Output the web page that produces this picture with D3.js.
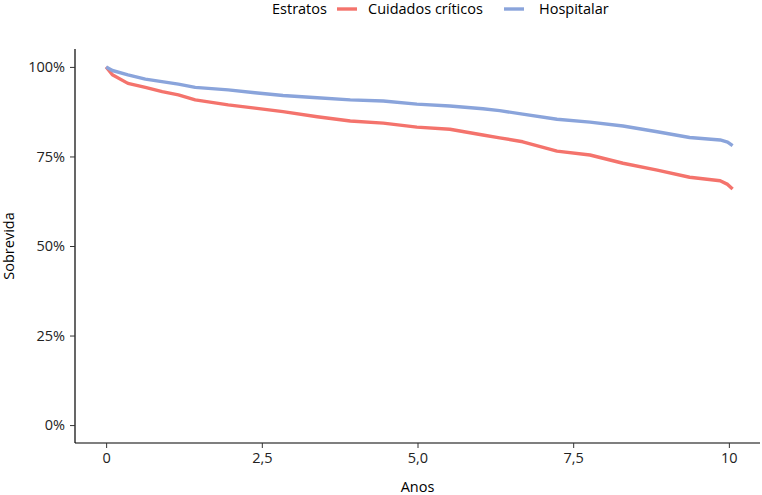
<!DOCTYPE html>
<html>
<head>
<meta charset="utf-8">
<script src="https://cdn.jsdelivr.net/npm/d3@7"></script>
<style>
  body { margin: 0; background: #fff; }
  text { font-family: "Open Sans", "Noto Sans", sans-serif; }
</style>
</head>
<body>
<div id="chart"></div>
<script>
// survival curves (years, proportion surviving)
var critico_t = [0, 0.1, 0.35, 0.63, 0.9, 1.16, 1.43, 1.96, 2.39, 2.84, 3.39, 3.92, 4.45, 4.99, 5.52, 6.05, 6.32, 6.69, 7.24, 7.77, 8.30, 8.85, 9.37, 9.86, 9.98, 10.06];
var critico_s = [1.0, 0.978, 0.954, 0.943, 0.931, 0.922, 0.908, 0.894, 0.885, 0.875, 0.861, 0.849, 0.843, 0.832, 0.826, 0.810, 0.802, 0.791, 0.765, 0.754, 0.731, 0.712, 0.692, 0.682, 0.672, 0.659];
var hosp_t = [0, 0.1, 0.35, 0.63, 1.16, 1.43, 1.96, 2.39, 2.84, 3.39, 3.92, 4.45, 4.99, 5.52, 6.05, 6.32, 6.69, 7.24, 7.77, 8.30, 8.85, 9.37, 9.86, 9.98, 10.06];
var hosp_s = [1.0, 0.99, 0.978, 0.966, 0.952, 0.943, 0.936, 0.928, 0.920, 0.914, 0.908, 0.905, 0.896, 0.891, 0.883, 0.878, 0.868, 0.854, 0.846, 0.835, 0.819, 0.803, 0.796, 0.790, 0.780];
var x_ticks = [0, 2.5, 5, 7.5, 10];
var x_tick_labels = ["0", "2,5", "5,0", "7,5", "10"];
var y_ticks = [0, 0.25, 0.5, 0.75, 1];
var strata = ["Cuidados críticos", "Hospitalar"];
var colors = ["#F4736C", "#8AA4DB"];

var width = 762, height = 495;
var margin = {top: 49, right: 2, bottom: 52, left: 75};
var chartWidth = width - margin.left - margin.right;
var chartHeight = height - margin.top - margin.bottom;

var svg = d3.select("#chart").append("svg")
    .attr("width", width)
    .attr("height", height);

var g = svg.append("g")
    .attr("transform", `translate(${margin.left},${margin.top})`);

// x domain padded like ggplot expansion
var x = d3.scaleLinear()
    .domain([-0.5, 10.5])
    .range([0, chartWidth]);
var y = d3.scaleLinear()
    .domain([-0.05, 1.05])
    .range([chartHeight, 0]);

var series = [
    {name: strata[0], t: critico_t, s: critico_s, color: colors[0]},
    {name: strata[1], t: hosp_t, s: hosp_s, color: colors[1]}
];

var line = d3.line()
    .x(d => x(d[0]))
    .y(d => y(d[1]))
    .curve(d3.curveLinear);

g.selectAll(".km")
    .data(series)
    .enter().append("path")
    .attr("class", "km")
    .attr("fill", "none")
    .attr("stroke", d => d.color)
    .attr("stroke-width", 3.4)
    .attr("stroke-linejoin", "round")
    .attr("d", d => line(d.t.map((v, i) => [v, d.s[i]])));

// axes
var xAxis = g.append("g")
    .attr("transform", `translate(0,${chartHeight})`)
    .call(d3.axisBottom(x).tickValues(x_ticks).tickFormat((d, i) => x_tick_labels[i]).tickSize(5).tickPadding(5));
var yAxis = g.append("g")
    .call(d3.axisLeft(y).tickValues(y_ticks).tickFormat(d => Math.round(d * 100) + "%").tickSize(5).tickPadding(5));

[xAxis, yAxis].forEach(function(ax) {
    ax.select(".domain").attr("stroke", "#000").attr("stroke-width", 1.2);
    ax.selectAll(".tick line").attr("stroke", "#333").attr("stroke-width", 1);
    ax.selectAll(".tick text").attr("fill", "#222").style("font-size", "14.5px");
});
xAxis.select(".domain").attr("d", `M0,0H${chartWidth}`);
yAxis.select(".domain").attr("d", `M0,0V${chartHeight}`);

// axis titles
svg.append("text")
    .attr("x", margin.left + x(5))
    .attr("y", 492)
    .attr("text-anchor", "middle")
    .style("font-size", "14.5px")
    .attr("fill", "#000")
    .text("Anos");
svg.append("text")
    .attr("transform", `translate(14,${margin.top + chartHeight / 2}) rotate(-90)`)
    .attr("text-anchor", "middle")
    .style("font-size", "14.5px")
    .attr("fill", "#000")
    .text("Sobrevida");

// legend
var legend = svg.append("g").attr("transform", "translate(0,9)");
legend.append("text")
    .attr("x", 272).attr("y", 5)
    .style("font-size", "14.5px")
    .text("Estratos");
var keyX = [337, 504];
var labX = [368, 539];
series.forEach(function(s, i) {
    legend.append("line")
        .attr("x1", keyX[i]).attr("x2", keyX[i] + 20)
        .attr("y1", 0).attr("y2", 0)
        .attr("stroke", s.color).attr("stroke-width", 3.4);
    legend.append("text")
        .attr("x", labX[i]).attr("y", 5)
        .style("font-size", "14.5px")
        .text(s.name);
});
</script>
</body>
</html>
